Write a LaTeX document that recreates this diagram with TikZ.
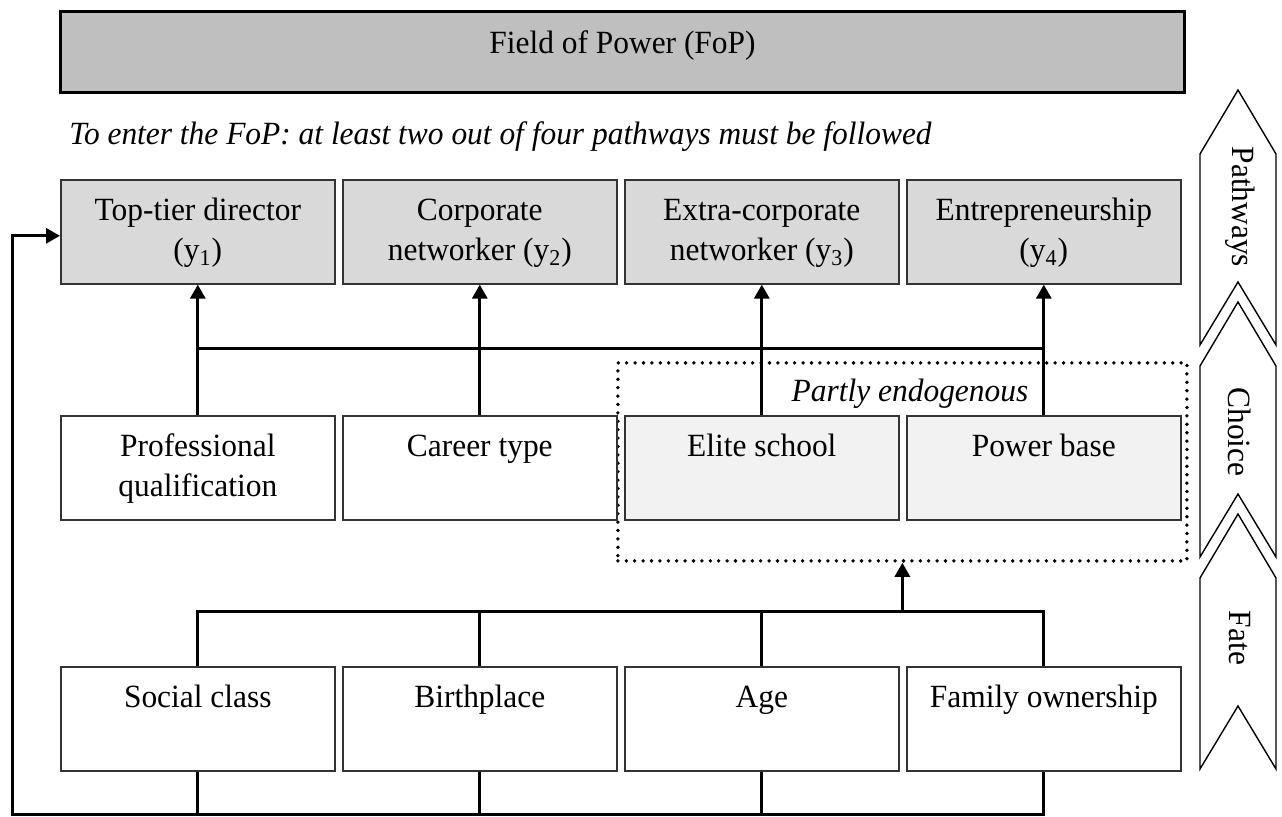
\documentclass[tikz,border=0pt]{standalone}
\usepackage{fontspec}
\setmainfont{Liberation Serif}[FakeStretch=0.97]
\usetikzlibrary{arrows.meta}

\newcommand{\basefont}{\fontsize{16.2pt}{20pt}\selectfont}

\tikzset{
  cell/.style={draw=black!80, line width=0.8pt, anchor=north west, inner sep=0pt,
    text width=137pt, align=flush center, text height=20.5pt, text depth=31.5pt,
    execute at begin node={\spaceskip=0pt\relax}},
  link/.style={line width=1.5pt},
  arr/.style={link, -{Triangle[length=7pt,width=7.5pt]}},
  chevron/.style={line width=0.7pt, line join=miter},
  dots/.style={line width=1.9pt, dash pattern=on 0pt off 4.2pt, line cap=round},
}

\begin{document}
\begin{tikzpicture}[x=0.5pt, y=-0.5pt, font=\basefont]
\useasboundingbox (0,0) rectangle (1282,817);

        \node[draw, line width=1.5pt, fill=black!25, anchor=north west, inner sep=0pt,
              minimum width=562pt, text height=21pt, text depth=19.5pt] (fop) at (59,10) {Field of Power (FoP)};
        \node[anchor=base west, inner sep=0pt, font=\basefont\itshape] (rule) at (69,145)
              {To enter the FoP: at least two out of four pathways must be followed};

        % pathways
        \node[cell, fill=black!15] (dir)   at (60,179)  {Top-tier director\\(y\textsubscript{1})};
        \node[cell, fill=black!15] (corp)  at (342,179) {Corporate\\networker (y\textsubscript{2})};
        \node[cell, fill=black!15] (extra) at (624,179) {Extra-corporate\\networker (y\textsubscript{3})};
        \node[cell, fill=black!15] (entre) at (906,179) {Entrepreneurship\\(y\textsubscript{4})};

        % choice
        \node[draw, dots, anchor=north west, minimum width=284.5pt, minimum height=99pt] (endo) at (616,361) {};
        \node[anchor=base, font=\basefont\itshape] (endolbl) at (910,402) {Partly endogenous};
        \node[cell] (prof)   at (60,415)  {Professional\\qualification};
        \node[cell] (career) at (342,415) {Career type};
        \node[cell, fill=black!5] (elite) at (624,415) {Elite school};
        \node[cell, fill=black!5] (base)  at (906,415) {Power base};

        % fate
        \node[cell] (class)  at (60,666)  {Social class};
        \node[cell] (birth)  at (342,666) {Birthplace};
        \node[cell] (age)    at (624,666) {Age};
        \node[cell] (family) at (906,666) {Family ownership};

        \coordinate (upbus) at (0,349);
        \coordinate (lowbus) at (0,612);
        \coordinate (fb) at (12,815);
        \coordinate (entry) at ([yshift=-2pt]dir.west);

        \draw[link] (prof.north |- upbus) -- (base.north |- upbus);
        \draw[arr] (prof.north) -- (dir.south);
        \draw[arr] (career.north) -- (corp.south);
        \draw[arr] (elite.north) -- (extra.south);
        \draw[arr] (base.north) -- (entre.south);

        \draw[link] (class.north) -- (class.north |- lowbus) -- (family.north |- lowbus) -- (family.north);
        \draw[link] (birth.north) -- (birth.north |- lowbus);
        \draw[link] (age.north) -- (age.north |- lowbus);
        \draw[arr] (endo.south |- lowbus) -- (endo.south);

        \draw[link] (class.south) -- (class.south |- fb);
        \draw[link] (birth.south) -- (birth.south |- fb);
        \draw[link] (age.south) -- (age.south |- fb);
        \draw[arr] (family.south) -- (family.south |- fb) -- (fb) -- (fb |- entry) -- (entry);

        % stages
        \foreach \t/\mid/\word in {90/207/Pathways, 302/432/Choice, 514/638/Fate}{
                \draw[chevron] (1200,\t+64) -- (1238,\t) -- (1276,\t+64) -- (1276,\t+255)
                        -- (1238,\t+192) -- (1200,\t+255) -- cycle;
                \node[rotate=-90] (\word) at (1240,\mid) {\word};
        }
\end{tikzpicture}
\end{document}
